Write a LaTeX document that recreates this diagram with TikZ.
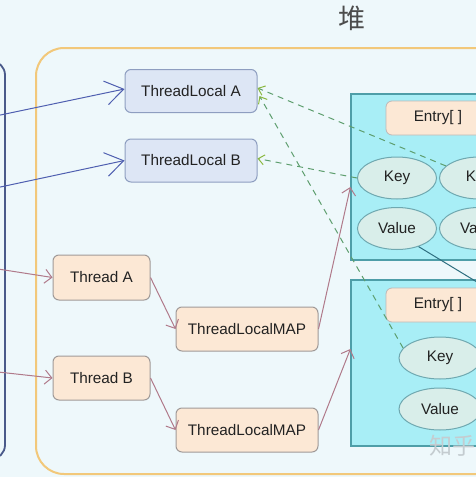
\documentclass[tikz,border=0pt]{standalone}
\usepackage{fontspec}
\setmainfont{Liberation Sans}
\newfontfamily\cjkfont{Noto Sans CJK SC}
\usetikzlibrary{arrows.meta,calc,shapes.geometric}
\definecolor{bgc}{HTML}{EEF8FB}
\definecolor{leftc}{HTML}{4A5A8A}
\definecolor{heapc}{HTML}{F2C87A}
\definecolor{tlfill}{HTML}{DDE6F5}
\definecolor{tldraw}{HTML}{8E9EC0}
\definecolor{thfill}{HTML}{FCE8D5}
\definecolor{thdraw}{HTML}{A09A98}
\definecolor{cyfill}{HTML}{A8EEF6}
\definecolor{cydraw}{HTML}{4E9EA8}
\definecolor{elfill}{HTML}{D9EEEA}
\definecolor{eldraw}{HTML}{6FA8B0}
\definecolor{bluec}{HTML}{4F5FB0}
\definecolor{pinkc}{HTML}{B07A8A}
\definecolor{greenc}{HTML}{5E9E6E}
\definecolor{tipc}{HTML}{8BB840}
\definecolor{tealc}{HTML}{2F6F80}
\definecolor{txtc}{HTML}{222222}
\definecolor{wmc}{HTML}{C4CCD0}
\tikzset{
  every node/.style={font=\fontsize{15.3}{18}\selectfont, text=txtc},
  tlbox/.style={draw=tldraw, fill=tlfill, rounded corners=6pt, line width=1pt, minimum width=132pt, minimum height=43pt, inner sep=0pt},
  thbox/.style={draw=thdraw, fill=thfill, rounded corners=6pt, line width=1pt, minimum height=44pt, inner sep=0pt},
  cybox/.style={draw=cydraw, fill=cyfill, line width=1.2pt, minimum width=169pt, minimum height=166pt, inner sep=0pt},
  entrybox/.style={draw=thdraw!70, fill=thfill, rounded corners=6pt, line width=0.8pt, minimum width=104pt, minimum height=34pt, inner sep=0pt},
  elnode/.style={ellipse, draw=eldraw, fill=elfill, line width=1pt, minimum width=79pt, minimum height=42pt, inner sep=0pt},
  bluearr/.style={draw=bluec, line width=1pt, -{Straight Barb[length=18pt,width=24pt,line width=1pt]}},
  pinkarr/.style={draw=pinkc, line width=1pt, -{Straight Barb[length=7pt,width=14pt,line width=1pt]}},
  greenarr/.style={draw=greenc, line width=1pt, dash pattern=on 6pt off 5pt, -{Straight Barb[length=6pt,width=10pt,line width=1pt,color=tipc]}},
}
\begin{document}
\begin{tikzpicture}[x=1pt,y=-1pt]
\useasboundingbox (0,0) rectangle (476,477);
\clip (0,0) rectangle (476,477);
\fill[bgc] (0,0) rectangle (476,477);
% left container and heap container
\draw[leftc, line width=1.8pt, rounded corners=14pt] (-200,61) rectangle (5,459);
\draw[heapc, line width=2pt, rounded corners=28pt] (36,48) rectangle (700,474);
\node[font=\cjkfont\fontsize{27}{29}\selectfont, text=black!70] (title) at (352,18) {堆};
% nodes
\node[tlbox] (tla) at (191,91) {ThreadLocal A};
\node[tlbox] (tlb) at (191,160.5) {ThreadLocal B};
\node[thbox, minimum width=97pt, minimum height=45pt] (tha) at (101.5,277.5) {Thread A};
\node[thbox, minimum width=97pt] (thb) at (101.5,378) {Thread B};
\node[thbox, minimum width=142pt] (mapa) at (247,329) {ThreadLocalMAP};
\node[thbox, minimum width=142pt] (mapb) at (247,430) {ThreadLocalMAP};
\node[cybox] (boxa) at (435.5,177) {};
\node[cybox] (boxb) at (435.5,363) {};
\node[entrybox] (enta) at (438,118) {Entry[ ]};
\node[entrybox] (entb) at (438,305) {Entry[ ]};
\node[elnode] (keya) at (397,178) {Key};
\node[elnode] (vala) at (397,228.5) {Value};
\node[elnode] (keyc) at (479,178) {Key};
\node[elnode] (valc) at (479,228.5) {Value};
\node[elnode, minimum width=82pt] (keyb) at (440,358) {Key};
\node[elnode, minimum width=82pt] (valb) at (440,409) {Value};
\node[font=\cjkfont\fontsize{23}{25}\selectfont, text=wmc, anchor=base west] (wm) at (426,454) {知乎};
% connectors
\coordinate (l1) at (-2,115.5);
\coordinate (l2) at (-2,187.5);
\coordinate (l3) at (-2,269);
\coordinate (l4) at (-2,372);
\draw[bluearr] (l1) -- ($(tla.west)+(0,-2)$);
\draw[bluearr] (l2) -- (tlb.west);
\draw[pinkarr] (l3) -- (tha.west);
\draw[pinkarr] (l4) -- (thb.west);
\draw[pinkarr] (tha.east) -- (mapa.west);
\draw[pinkarr] (thb.east) -- (mapb.west);
\draw[pinkarr] (mapa.east) -- ($(boxa.west)+(0,10)$);
\draw[pinkarr] (mapb.east) -- ($(boxb.west)+(0,-14)$);
\draw[greenarr] (keya.west) -- ($(tlb.east)+(0,-2)$);
\draw[greenarr] (keyc.160) -- ($(tla.east)+(0,-3)$);
\draw[greenarr] (keyb.165) -- ($(tla.east)+(2,5)$);
\coordinate (tend) at (500,296);
\draw[tealc, line width=1pt] (vala.-40) -- (tend);
\end{tikzpicture}
\end{document}
